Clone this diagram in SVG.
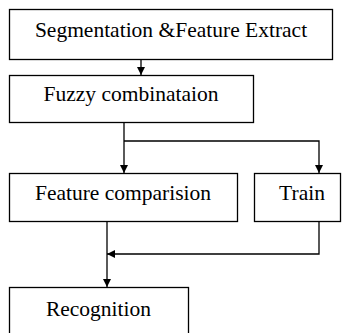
<svg xmlns="http://www.w3.org/2000/svg" width="343" height="333" viewBox="0 0 343 333">
<style>
.box{fill:#fff;stroke:#000;stroke-width:1.3}
.lbl{font-family:'Liberation Serif','DejaVu Serif',serif;font-size:21.5px;fill:#000;text-anchor:middle}
.ln{fill:none;stroke:#000;stroke-width:1.3}
</style>
<defs>
<marker id="ah" markerWidth="8" markerHeight="8" viewBox="0 0 10 10" refX="10" refY="5" orient="auto" markerUnits="userSpaceOnUse">
<path d="M0,0 L10,5 L0,10 Z" fill="#000"/>
</marker>
</defs>
<rect width="343" height="333" fill="#fff"/>
<g id="connectors">
<line class="ln" x1="141" y1="60" x2="141" y2="75" marker-end="url(#ah)"/>
<polyline class="ln" points="124,123 124,141 124,173" marker-end="url(#ah)"/>
<polyline class="ln" points="124,141 319,141 319,173" marker-end="url(#ah)"/>
<line class="ln" x1="107" y1="222" x2="107" y2="287" marker-end="url(#ah)"/>
<polyline class="ln" points="319,222 319,254 107,254" marker-end="url(#ah)"/>
</g>
<g id="seg">
<rect class="box" x="9.5" y="9.5" width="323" height="50"/>
<text class="lbl" x="171" y="37">Segmentation &amp;Feature Extract</text>
</g>
<g id="fuzzy">
<rect class="box" x="9.5" y="75.5" width="244" height="47"/>
<text class="lbl" x="131" y="101">Fuzzy combinataion</text>
</g>
<g id="compare">
<rect class="box" x="9.5" y="173.5" width="228" height="48"/>
<text class="lbl" x="123" y="199.5">Feature comparision</text>
</g>
<g id="train">
<rect class="box" x="254.5" y="173.5" width="86" height="48"/>
<text class="lbl" x="302" y="199.5">Train</text>
</g>
<g id="recog">
<rect class="box" x="9.5" y="287.5" width="179" height="50"/>
<text class="lbl" x="98.5" y="316">Recognition</text>
</g>
</svg>
